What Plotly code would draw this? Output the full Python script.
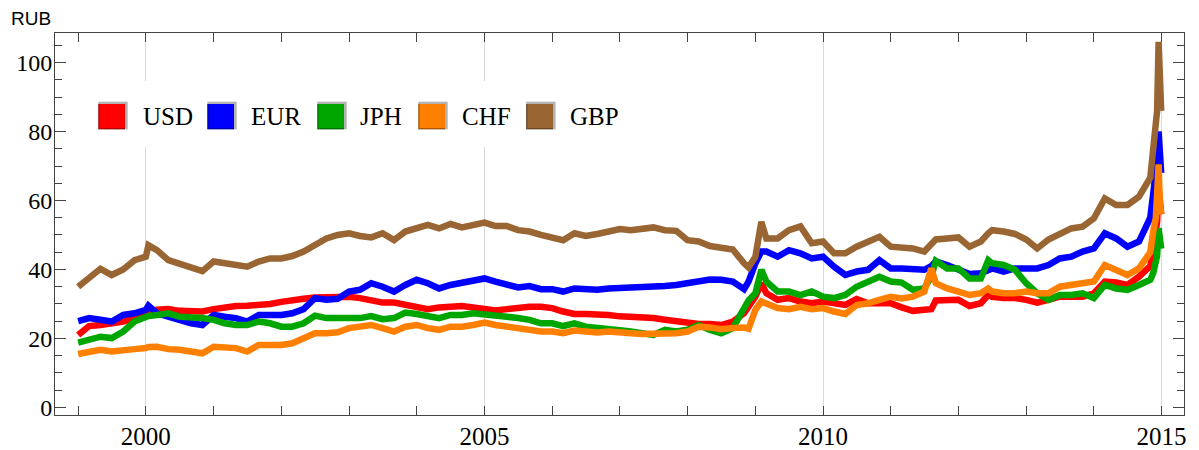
import plotly.graph_objects as go

# ---------------- data ----------------
DATES = [
    "1999-01-01", "1999-03-01", "1999-05-01", "1999-07-01", "1999-09-01", "1999-11-01",
    "2000-01-01", "2000-01-15", "2000-03-01", "2000-05-01", "2000-07-01", "2000-09-01", "2000-11-01",
    "2001-01-01", "2001-03-01", "2001-05-01", "2001-07-01", "2001-09-01", "2001-11-01",
    "2002-01-01", "2002-03-01", "2002-05-01", "2002-07-01", "2002-09-01", "2002-11-01",
    "2003-01-01", "2003-03-01", "2003-05-01", "2003-07-01", "2003-09-01", "2003-11-01",
    "2004-01-01", "2004-03-01", "2004-05-01", "2004-07-01", "2004-09-01", "2004-11-01",
    "2005-01-01", "2005-03-01", "2005-05-01", "2005-07-01", "2005-09-01", "2005-11-01",
    "2006-01-01", "2006-03-01", "2006-05-01", "2006-07-01", "2006-09-01", "2006-11-01",
    "2007-01-01", "2007-03-01", "2007-05-01", "2007-07-01", "2007-09-01", "2007-11-01",
    "2008-01-01", "2008-03-01", "2008-05-01", "2008-07-01", "2008-09-01", "2008-11-01", "2008-11-25",
    "2009-01-01", "2009-02-02", "2009-03-01", "2009-05-01", "2009-07-01", "2009-09-01", "2009-11-01",
    "2010-01-01", "2010-03-01", "2010-05-01", "2010-07-01", "2010-09-01", "2010-11-01",
    "2011-01-01", "2011-03-01", "2011-05-01", "2011-07-01", "2011-08-08", "2011-09-01", "2011-11-01",
    "2012-01-01", "2012-03-01", "2012-05-01", "2012-06-10", "2012-07-01", "2012-09-01", "2012-11-01",
    "2013-01-01", "2013-03-01", "2013-05-01", "2013-07-01", "2013-09-01", "2013-11-01",
    "2014-01-01", "2014-03-01", "2014-05-01", "2014-07-01", "2014-09-01", "2014-11-01",
    "2014-11-17", "2014-12-01", "2014-12-08", "2014-12-16", "2014-12-22", "2014-12-30",
]

USD = [
    21.0, 23.6, 23.9, 24.4, 24.9, 25.9,
    27.3, 27.8, 28.3, 28.5, 28.0, 27.8, 27.8,
    28.5, 29.0, 29.4, 29.5, 29.7, 30.0,
    30.6, 31.2, 31.5, 31.9, 32.1, 32.1,
    32.1, 31.7, 31.0, 30.4, 30.4, 29.7,
    29.0, 28.5, 29.0, 29.2, 29.4, 29.0,
    28.5, 28.1, 28.5, 29.0, 29.2, 29.2,
    28.8, 27.8, 27.1, 27.1, 27.1, 26.8,
    26.4, 26.3, 26.0, 25.9, 25.4, 24.9,
    24.6, 24.2, 24.2, 23.9, 24.9, 27.3, 29.2,
    32.1, 36.0, 33.1, 31.2, 31.7, 30.7, 30.2,
    30.7, 30.2, 29.7, 31.4, 30.2, 30.2,
    30.2, 29.0, 28.0, 28.3, 28.5, 31.0, 31.2,
    31.2, 29.4, 30.2, 32.6, 32.1, 31.7, 31.7,
    31.2, 30.4, 31.2, 32.1, 32.1, 32.1,
    33.1, 36.5, 36.2, 35.5, 37.9, 41.0,
    46.0, 50.0, 54.0, 64.0, 58.0, 56.0,
]

EUR = [
    25.0, 25.9, 25.4, 24.9, 26.8, 27.3,
    28.3, 29.5, 27.3, 26.3, 25.4, 24.4, 23.9,
    26.8, 26.3, 25.9, 24.9, 26.8, 26.8,
    26.8, 27.3, 28.5, 31.7, 31.2, 31.5,
    33.6, 34.1, 36.0, 35.0, 33.6, 35.5,
    37.0, 36.0, 34.5, 35.5, 36.0, 36.8,
    37.4, 36.5, 35.8, 34.8, 35.2, 34.3,
    34.3, 33.6, 34.5, 34.1, 34.1, 34.5,
    34.6, 34.5, 35.0, 35.0, 35.2, 35.5,
    36.0, 36.5, 37.1, 37.0, 36.5, 34.3, 36.5,
    41.8, 45.2, 45.2, 43.7, 45.6, 44.7, 43.2,
    43.7, 40.8, 38.4, 39.4, 39.9, 42.7,
    40.3, 40.3, 40.3, 39.9, 41.0, 42.3, 41.3,
    39.9, 38.7, 38.9, 39.5, 40.3, 39.4, 40.3,
    40.3, 40.3, 41.3, 43.2, 43.7, 45.2,
    46.1, 50.5, 49.0, 46.6, 48.1, 55.0,
    62.0, 68.0, 72.0, 80.0, 74.0, 68.0,
]

JPH = [
    18.8, 19.8, 20.5, 20.1, 22.0, 24.9,
    26.3, 26.5, 26.8, 27.3, 26.3, 26.3, 25.9,
    25.4, 24.4, 23.9, 23.9, 24.9, 24.4,
    23.4, 23.4, 24.4, 26.6, 25.9, 25.9,
    26.3, 25.9, 26.5, 25.6, 25.9, 27.5,
    27.1, 26.3, 25.9, 26.8, 26.8, 27.3,
    27.1, 26.8, 26.3, 25.9, 25.4, 24.4,
    24.4, 23.6, 24.4, 23.4, 23.2, 22.7,
    22.4, 22.0, 21.5, 21.0, 22.5, 22.0,
    22.5, 23.9, 22.5, 21.5, 23.0, 28.8, 31.0,
    33.1, 39.9, 36.5, 33.6, 33.6, 32.6, 33.6,
    32.1, 31.7, 32.6, 35.0, 36.5, 37.9,
    36.5, 36.2, 34.1, 34.5, 38.0, 42.5, 40.3,
    40.3, 37.4, 37.4, 42.7, 41.8, 41.3, 39.9,
    36.0, 33.1, 31.2, 32.6, 32.6, 33.1,
    31.7, 35.5, 34.5, 34.1, 35.5, 37.0,
    39.0, 42.0, 44.0, 52.0, 47.0, 46.0,
]

CHF = [
    15.5, 16.2, 16.7, 16.2, 16.7, 16.9,
    17.2, 17.5, 17.6, 16.9, 16.7, 16.2, 15.7,
    17.6, 17.2, 17.2, 16.2, 18.1, 18.1,
    18.1, 18.6, 19.8, 21.5, 21.5, 21.8,
    23.0, 23.4, 23.9, 23.0, 22.0, 23.4,
    23.9, 23.0, 22.5, 23.4, 23.4, 23.9,
    24.6, 23.9, 23.4, 22.7, 22.5, 22.0,
    22.0, 21.5, 22.3, 22.0, 21.7, 22.0,
    21.6, 21.5, 21.3, 21.3, 21.5, 21.5,
    22.0, 23.4, 23.2, 22.7, 23.0, 23.2, 22.8,
    28.3, 30.7, 30.2, 28.8, 28.5, 29.2, 28.5,
    28.8, 27.8, 27.1, 29.7, 30.2, 31.2,
    32.1, 31.6, 32.1, 33.6, 40.3, 36.0, 34.5,
    33.6, 32.6, 33.1, 34.5, 33.6, 33.1, 33.1,
    33.6, 33.1, 33.1, 35.0, 35.5, 36.0,
    36.5, 41.3, 39.9, 38.4, 40.3, 45.0,
    51.0, 55.0, 62.0, 70.5, 60.0, 56.0,
]

GBP = [
    35.0, 37.4, 40.2, 38.4, 40.0, 42.7,
    43.7, 47.0, 45.6, 42.7, 41.8, 40.8, 39.5,
    42.3, 41.8, 41.3, 40.8, 42.3, 43.2,
    43.2, 43.9, 45.2, 47.1, 49.0, 50.0,
    50.5, 49.7, 49.3, 50.5, 48.5, 51.0,
    52.2, 52.9, 51.9, 53.2, 52.2, 52.9,
    53.6, 52.6, 52.6, 51.4, 51.0, 50.0,
    49.3, 48.5, 50.5, 49.7, 50.3, 51.0,
    51.7, 51.4, 51.6, 52.2, 51.4, 51.2,
    48.5, 48.1, 46.8, 46.4, 45.8, 41.8, 40.6,
    43.7, 53.8, 49.0, 49.0, 51.4, 52.5, 47.6,
    48.1, 44.7, 44.7, 46.6, 48.3, 49.5,
    46.6, 46.5, 46.1, 45.2, 47.5, 48.7, 49.0,
    49.3, 46.6, 48.1, 50.5, 51.4, 51.0, 50.3,
    48.7, 46.1, 48.7, 50.5, 51.9, 52.4,
    54.8, 60.6, 58.7, 58.7, 61.1, 66.6,
    75.0, 80.0, 86.0, 106.0, 88.0, 86.0,
]

SERIES_NAMES = ["USD", "EUR", "JPH", "CHF", "GBP"]
SERIES_VALUES = [USD, EUR, JPH, CHF, GBP]
Y_TICKS = [0, 20, 40, 60, 80, 100]
Y_AXIS_LABEL = "RUB"

# ---------------- styling ----------------
COLORS = ["#FF0000", "#0000FF", "#00A600", "#FF8000", "#996633"]
DARK = ["#B00000", "#0000B0", "#007000", "#B05800", "#6B4724"]
SERIF = "Liberation Serif, Times New Roman, serif"
SANS = "Liberation Sans, Arial, sans-serif"

# the page body adds an 8px offset; the plot frame must land at
# page pixels x 55..1184, y 33..415
OFF = 8
W, H = 1199 - OFF, 450 - OFF
FRAME_L, FRAME_R, FRAME_T, FRAME_B = 55, 1184, 33, 415
L, T = FRAME_L - OFF, FRAME_T - OFF
R, B = W - (FRAME_R - OFF), H - (FRAME_B - OFF)
PW, PH = FRAME_R - FRAME_L, FRAME_B - FRAME_T


def px_x(px):
    return (px - FRAME_L) / PW


def px_y(py):
    return (FRAME_B - py) / PH


for v in SERIES_VALUES:
    assert len(v) == len(DATES)

fig = go.Figure()
for name, vals, col in zip(SERIES_NAMES, SERIES_VALUES, COLORS):
    fig.add_trace(go.Scatter(
        x=DATES, y=vals, mode="lines", name=name,
        line=dict(color=col, width=6.5, shape="linear"),
        showlegend=False,
    ))

shapes = []
annotations = []

# white legend backdrop (hides the grid lines behind it)
shapes.append(dict(type="rect", xref="paper", yref="paper",
                   x0=px_x(86), x1=px_x(620), y0=px_y(147), y1=px_y(81),
                   fillcolor="white", line=dict(width=0), layer="above"))

sw_x = [98.3, 207.3, 317.3, 418.3, 526.2]
tx_x = [140.5, 249.0, 358.3, 459.7, 568.2]
for name, col, dk, sx, tx in zip(SERIES_NAMES, COLORS, DARK, sw_x, tx_x):
    shapes.append(dict(type="rect", xref="paper", yref="paper",
                       x0=px_x(sx), x1=px_x(sx + 29.4), y0=px_y(129.3), y1=px_y(101.7),
                       fillcolor="#B3B3B3", line=dict(width=0), layer="above"))
    shapes.append(dict(type="rect", xref="paper", yref="paper",
                       x0=px_x(sx), x1=px_x(sx + 26.7), y0=px_y(129.3), y1=px_y(104),
                       fillcolor=dk, line=dict(width=0), layer="above"))
    shapes.append(dict(type="rect", xref="paper", yref="paper",
                       x0=px_x(sx + 1.3), x1=px_x(sx + 26.7), y0=px_y(128), y1=px_y(104),
                       fillcolor=col, line=dict(width=0), layer="above"))
    annotations.append(dict(xref="paper", yref="paper", x=px_x(tx), y=px_y(116),
                            xanchor="left", yanchor="middle", showarrow=False,
                            text=name, font=dict(family=SERIF, size=25, color="black")))

annotations.append(dict(xref="paper", yref="paper", x=px_x(8.5), y=px_y(19),
                        xanchor="left", yanchor="middle", showarrow=False,
                        text=Y_AXIS_LABEL, font=dict(family=SANS, size=19, color="black")))

axis_col = "#444444"
fig.update_layout(
    template="none",
    width=W, height=H,
    margin=dict(l=L, r=R, t=T, b=B, autoexpand=False),
    paper_bgcolor="white", plot_bgcolor="white",
    showlegend=False,
    shapes=shapes, annotations=annotations,
    xaxis=dict(
        type="date", range=["1998-08-29", "2015-05-02"], automargin=False,
        tickmode="linear", tick0="2000-01-01", dtick="M60", tickformat="%Y",
        ticks="inside", ticklen=9, tickwidth=1, tickcolor=axis_col,
        ticklabelstandoff=-1,
        showline=True, linecolor=axis_col, linewidth=1, mirror="ticks",
        showgrid=True, gridcolor="#DADADA", gridwidth=1.3, zeroline=False,
        tickfont=dict(family=SERIF, size=25, color="black"),
        minor=dict(tick0="2000-01-01", dtick="M12", ticks="inside", ticklen=9,
                   tickcolor=axis_col, tickwidth=1, showgrid=False),
    ),
    yaxis=dict(
        range=[-2.2, 108.57], automargin=False,
        tickmode="array", tickvals=Y_TICKS, ticktext=[str(t) for t in Y_TICKS],
        ticks="inside", ticklen=11, tickwidth=1, tickcolor=axis_col,
        ticklabelstandoff=-3,
        showline=True, linecolor=axis_col, linewidth=1, mirror="ticks",
        showgrid=False, zeroline=False,
        tickfont=dict(family=SERIF, size=24, color="black"),
        minor=dict(tick0=0, dtick=5, ticks="inside", ticklen=7,
                   tickcolor=axis_col, tickwidth=1, showgrid=False),
    ),
)

fig.write_html("out.html")
